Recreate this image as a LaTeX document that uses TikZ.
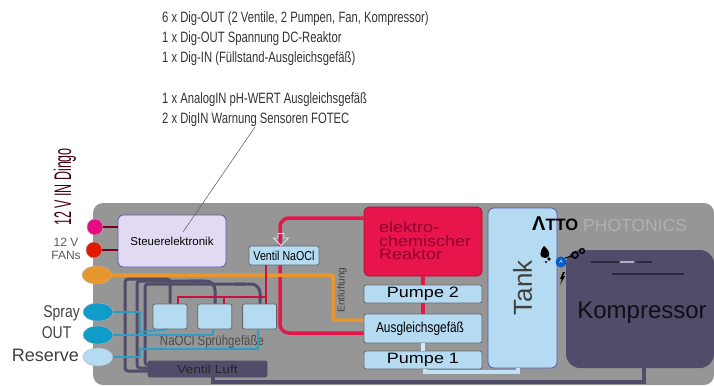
\documentclass[tikz,border=0pt]{standalone}
\usepackage{fontspec}
\setmainfont{Liberation Sans}
\newfontfamily\narrowfont[FakeStretch=0.82]{Liberation Sans}
\newfontfamily\tallfont[FakeStretch=0.75]{Liberation Sans}
\newfontfamily\dingofont[FakeStretch=0.52]{Liberation Sans}
\newfontfamily\wideface[FakeStretch=1.2]{Liberation Sans}
\usetikzlibrary{positioning,arrows.meta,shapes.geometric,shapes.arrows,calc}
\definecolor{housegray}{HTML}{969696}
\definecolor{tubedark}{HTML}{514C69}
\definecolor{tanklight}{HTML}{B5DBF2}
\definecolor{reactorred}{HTML}{E8154C}
\definecolor{pipeorange}{HTML}{E8962E}
\definecolor{pipecyan}{HTML}{2E9EC6}
\definecolor{elecviolet}{HTML}{E2DAF3}
\definecolor{portblue}{HTML}{0F9CCB}

\begin{document}
\begin{tikzpicture}[
x=1pt, y=-1pt,
font=\narrowfont,
box/.style={draw=gray!80!black, rounded corners=2pt, thick, fill=tanklight, align=center, inner sep=0pt},
port/.style={ellipse, draw=gray!60, minimum width=30pt, minimum height=18pt, inner sep=0pt},
tube/.style={tubedark, line width=3pt},
redpipe/.style={reactorred, line width=3.5pt},
wirered/.style={reactorred!85!black, line width=1.5pt},
cyanpipe/.style={pipecyan, line width=1.8pt},
portlabel/.style={font=\narrowfont\fontsize{17}{17}\selectfont, text=black!75, anchor=east, inner sep=0pt},
infotext/.style={anchor=north west, align=left, inner sep=0pt, text=black!80, font=\tallfont\fontsize{15}{20}\selectfont}
]
\useasboundingbox (0,0) rectangle (714,386);
\fill[housegray, rounded corners=10pt] (93,203) rectangle (714,385);

% texts above the housing
\node[infotext] (digout) at (162,11.5) {6 x Dig-OUT (2 Ventile, 2 Pumpen, Fan, Kompressor)\\1 x Dig-OUT Spannung DC-Reaktor\\1 x Dig-IN (Füllstand-Ausgleichsgefäß)};
\node[infotext] (analogin) at (162,92.5) {1 x AnalogIN pH-WERT Ausgleichsgefäß\\2 x DigIN Warnung Sensoren FOTEC};
\node[rotate=90, inner sep=0pt, text=purple!35!black, font=\dingofont\fontsize{24}{24}\selectfont] (dingo) at (65,187) {12 V IN Dingo};
\node[align=center, inner sep=0pt, text=black!65, font=\fontsize{12}{13}\selectfont] (fans) at (66,248.5) {12 V\\FANs};

% connections first, boxes go on top
\node[box, draw=gray!70!blue, rounded corners=5pt, fill=elecviolet, minimum width=108pt, minimum height=52pt, font=\fontsize{11.5}{11}\selectfont] (steuer) at (172,241) {Steuerelektronik};
\node[port, circle, minimum width=16pt, minimum height=16pt, fill=magenta!85!purple] (pin12) at (95,227) {};
\node[port, circle, minimum width=16pt, minimum height=16pt, fill=red!80!orange!90!black] (fan12) at (94,250) {};
\node[port, fill=pipeorange] (entl) at (97,275) {};
\node[port, fill=portblue] (spray) at (98,312) {};
\node[port, fill=portblue] (out) at (98,335) {};
\node[port, fill=tanklight] (reserve) at (98,357) {};
\draw[purple!60!black, line width=1.2pt] (pin12)--(steuer.west|-pin12);
\draw[purple!60!black, line width=1.2pt] (fan12)--(steuer.west|-fan12);

\node[portlabel] (spraytxt) at (80,313) {Spray};
\node[portlabel] (outtxt) at (71.5,333) {OUT};
\node[portlabel, font=\fontsize{18}{18}\selectfont] (restxt) at (79,355) {Reserve};

% reactor column
\node[box, draw=reactorred!70!black, rounded corners=5pt, fill=reactorred, minimum width=118pt, minimum height=69pt] (reaktor) at (423,241.5) {};
\node[anchor=west, align=left, inner sep=0pt, text=purple!75!black, font=\wideface\fontsize{15}{13.5}\selectfont] (reaktortxt) at (379,241) {elektro-\\chemischer\\Reaktor};
\node[box, minimum width=118pt, minimum height=18pt, font=\wideface\fontsize{15}{13}\selectfont] (pumpe2) at (423,294) {Pumpe 2};
\node[box, minimum width=118pt, minimum height=29pt, font=\narrowfont\fontsize{14.5}{13}\selectfont] (ausgl) at (423,328.5) {\hspace*{-6pt}Ausgleichsgefäß};
\node[box, minimum width=118pt, minimum height=18pt, font=\wideface\fontsize{15}{13}\selectfont] (pumpe1) at (423,360) {Pumpe 1};
\draw[redpipe] (reaktor)--(pumpe2);
\draw[redpipe] (pumpe2)--(ausgl);
\draw[tanklight!60!white, line width=3.5pt] (ausgl)--(pumpe1);

% tank and compressor
\node[box, draw=gray!70!blue, rounded corners=6pt, minimum width=69pt, minimum height=160pt] (tank) at (522.5,288) {};
\node[rotate=90, inner sep=0pt, text=black!75, font=\fontsize{26}{26}\selectfont] (tanktxt) at (tank) {Tank};
\node[box, draw=none, rounded corners=14pt, fill=tubedark, minimum width=148pt, minimum height=118pt] (kompr) at (640,309) {};
\node[inner sep=0pt, text=black!80!tubedark, font=\fontsize{24}{24}\selectfont] (komprtxt) at (642,313) {Kompressor};

% pipes
\draw[redpipe, rounded corners=9pt] (reaktor.west|-0,218)-|(280,333)--(ausgl.west|-0,333);
\draw[pipeorange, line width=3.5pt, rounded corners=1pt] (entl)-|(333,320)--(ausgl.west|-0,320);
\draw[tanklight!85!white, line width=3.5pt] (pumpe1.south-|425,369)|-(518,372)--(tank.south-|518,368);
\draw[tubedark, line width=4pt] (213,377)|-(644,382)--(kompr.south-|644,368);
\node[rotate=90, inner sep=0pt, text=black!75, font=\fontsize{10}{10}\selectfont] (entltxt) at (342,290) {Entlüftung};

% sprayer boxes
\node[box, minimum width=34pt, minimum height=25pt] (gef1) at (170,316.5) {};
\node[box, right=10pt of gef1, minimum width=34pt, minimum height=25pt] (gef2) {};
\node[box, right=10pt of gef2, minimum width=34pt, minimum height=25pt] (gef3) {};
\node[inner sep=0pt, text=black!70, font=\narrowfont\fontsize{14}{14}\selectfont] (geftxt) at (212,342) {NaOCl Sprühgefäße};
\node[box, minimum width=70pt, minimum height=19pt, font=\narrowfont\fontsize{13}{12}\selectfont] (ventil) at (284,255.5) {Ventil NaOCl};

% tubes from air valve
\draw[tube, rounded corners=3pt] (148,371)-|(125,279)-|(gef1.north-|170,304);
\draw[tube, rounded corners=3pt] (148,368)-|(137,281)--(203,281);
\draw[tube, rounded corners=9pt] (190,281)-|(gef2.north-|215,304);
\draw[tube, rounded corners=3pt] (148,365)-|(145,284)--(245,284);
\draw[tube, rounded corners=9pt] (235,284)-|(gef3.north-|260,304);
\node[box, draw=tubedark, rounded corners=2pt, fill=tubedark, minimum width=119pt, minimum height=16pt, text=black!85, font=\wideface\fontsize{11.5}{11}\selectfont] (luft) at (207.5,369) {Ventil Luft};

% wires from NaOCl valve
\draw[wirered] (ventil.south-|266,265)--(gef3.north-|266,304);
\draw[wirered] (266,297)-|(gef1.north-|178,304);
\draw[wirered] (224,297)--(gef2.north-|224,304);

% cyan lines
\draw[cyanpipe] (spray)-|(140,332)--(gef1.south-|167,332)--(gef1.south-|167,329);
\draw[cyanpipe] (out)-|(gef2.south-|213,329);
\draw[cyanpipe] (reserve)-|(140,349)-|(gef3.south-|258,329);

% hollow arrow
\node[single arrow, shape border rotate=270, draw=tanklight!60!white, fill=none, thick, inner sep=1pt, minimum height=12pt, minimum width=15pt, single arrow head extend=2pt] (flow) at (281,238) {};

% logo
\node[anchor=west, inner sep=0pt, text=black, font=\bfseries\fontsize{20}{20}\selectfont] (atto) at (532,224) {Λ\fontsize{16.5}{16.5}\selectfont TTO};
\node[anchor=west, inner sep=0pt, text=gray!62, font=\fontsize{17.5}{17.5}\selectfont] (photo) at (583,225) {PHOTONICS};
\node[circle, fill=blue!55!cyan!80!black, draw=none, minimum size=11pt, inner sep=0pt, text=white, font=\fontsize{5}{5}\selectfont] (logoa) at (561,262) {A};
\fill[black] (544,246) .. controls (539,252) and (539,258) .. (545,258) .. controls (551,258) and (551,252) .. (544,246);
\fill[black] (549,259) circle (1.8);
\fill[black] (546,262) circle (1.2);
\draw[black, line width=1.6pt] (575,255) circle (3);
\draw[black, line width=1.4pt] (582,251) circle (2.4);
\draw[black, line width=1pt] (565,258)--(572,256);
\fill[black] (563,272) -- (560,279) -- (562,279) -- (560,285) -- (565,276) -- (563,276) -- (565,272) -- cycle;
\draw[line width=1.5pt, draw=black!45!tubedark] (591,262)--(619,262);
\draw[line width=1.5pt, draw=white!55!tubedark] (620,262)--(634,262);
\draw[line width=1.5pt, draw=black!45!tubedark] (636,262)--(652,262);
\draw[line width=1.5pt, draw=black!45!tubedark] (612,274)--(684,274);

% leader
\coordinate (leaderend) at (255,127);
\draw[black!60, line width=.6pt] (183,232)--(leaderend);
\end{tikzpicture}
\end{document}
